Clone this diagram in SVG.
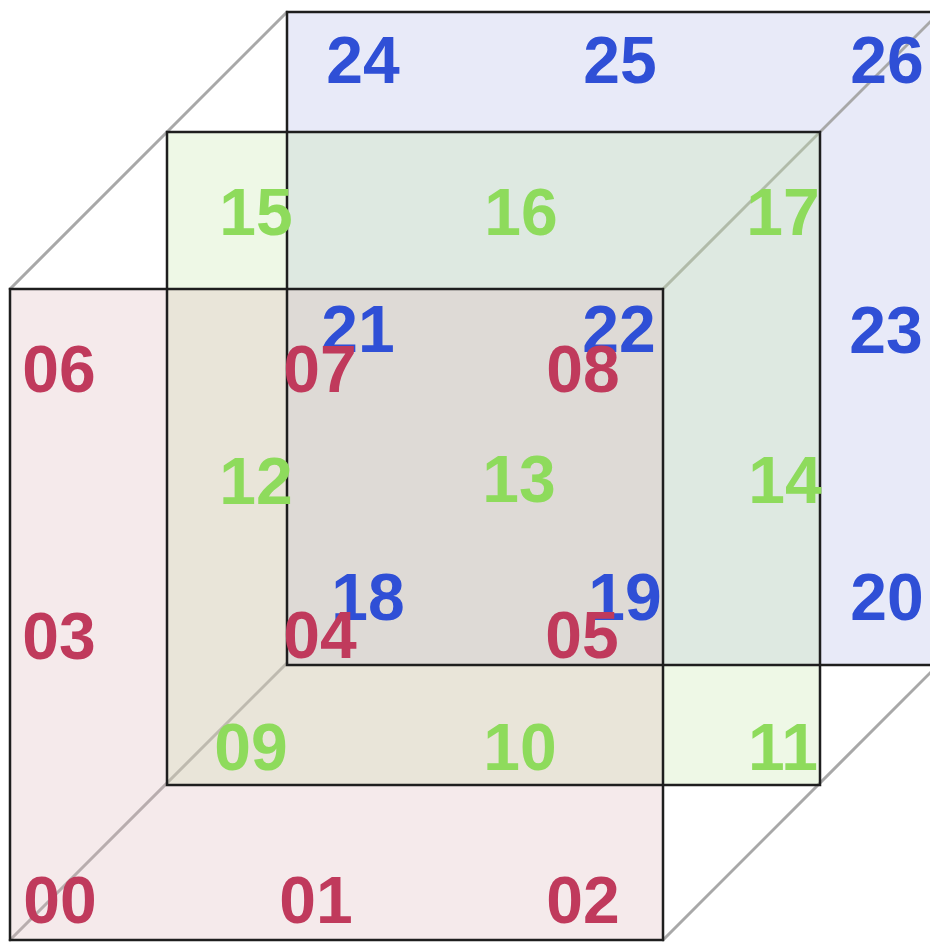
<svg xmlns="http://www.w3.org/2000/svg" width="930" height="943" viewBox="0 0 930 943">
  <style>
    .edge { stroke: #a8a8a8; stroke-width: 3; fill: none; stroke-linecap: round; }
    .frame { fill: none; stroke: #1e1e1e; stroke-width: 2.5; }
    .lbl { font-family: "Liberation Sans", Arial, sans-serif; font-weight: bold; font-size: 66px; text-anchor: middle; }
    .b { fill: #2f4fd6; }
    .g { fill: #8edb5c; }
    .r { fill: #c03a5c; }
  </style>
  <rect width="930" height="943" fill="#ffffff"/>

  <!-- back layer fill -->
  <rect id="back-fill" x="287" y="12" width="653" height="653" fill="#e8eaf8"/>

  <!-- cube edges (connectors) -->
  <g id="edges">
    <line class="edge" x1="10" y1="289" x2="287" y2="12"/>
    <line class="edge" x1="663" y1="289" x2="940" y2="12"/>
    <line class="edge" x1="10" y1="940" x2="287" y2="663"/>
    <line class="edge" x1="663" y1="940" x2="940" y2="663"/>
  </g>

  <!-- middle and front fills -->
  <rect id="middle-fill" x="167" y="132" width="653" height="653" fill="#c6e8ac" fill-opacity="0.3"/>
  <rect id="front-fill" x="10" y="289" width="653" height="651" fill="#deb8bc" fill-opacity="0.3"/>

  <!-- frames -->
  <g id="frames">
    <rect class="frame" x="287" y="12" width="653" height="653"/>
    <rect class="frame" x="167" y="132" width="653" height="653"/>
    <rect class="frame" x="10" y="289" width="653" height="651"/>
  </g>

  <!-- back layer labels -->
  <g id="back-layer">
    <text class="lbl b" x="363" y="83">24</text>
    <text class="lbl b" x="620" y="83">25</text>
    <text class="lbl b" x="887" y="83">26</text>
    <text class="lbl b" x="358" y="352">21</text>
    <text class="lbl b" x="619" y="352">22</text>
    <text class="lbl b" x="886" y="353">23</text>
    <text class="lbl b" x="368" y="620">18</text>
    <text class="lbl b" x="625" y="620">19</text>
    <text class="lbl b" x="887" y="620">20</text>
  </g>

  <!-- middle layer labels -->
  <g id="middle-layer">
    <text class="lbl g" x="256" y="235">15</text>
    <text class="lbl g" x="521" y="235">16</text>
    <text class="lbl g" x="783" y="235">17</text>
    <text class="lbl g" x="256" y="504">12</text>
    <text class="lbl g" x="519" y="502">13</text>
    <text class="lbl g" x="785" y="503">14</text>
    <text class="lbl g" x="251" y="770">09</text>
    <text class="lbl g" x="520" y="770">10</text>
    <text class="lbl g" x="783" y="770">11</text>
  </g>

  <!-- front layer labels -->
  <g id="front-layer">
    <text class="lbl r" x="59" y="392">06</text>
    <text class="lbl r" x="320" y="392">07</text>
    <text class="lbl r" x="583" y="392">08</text>
    <text class="lbl r" x="59" y="659">03</text>
    <text class="lbl r" x="320" y="658">04</text>
    <text class="lbl r" x="582" y="658">05</text>
    <text class="lbl r" x="60" y="923">00</text>
    <text class="lbl r" x="316" y="923">01</text>
    <text class="lbl r" x="583" y="923">02</text>
  </g>
</svg>
